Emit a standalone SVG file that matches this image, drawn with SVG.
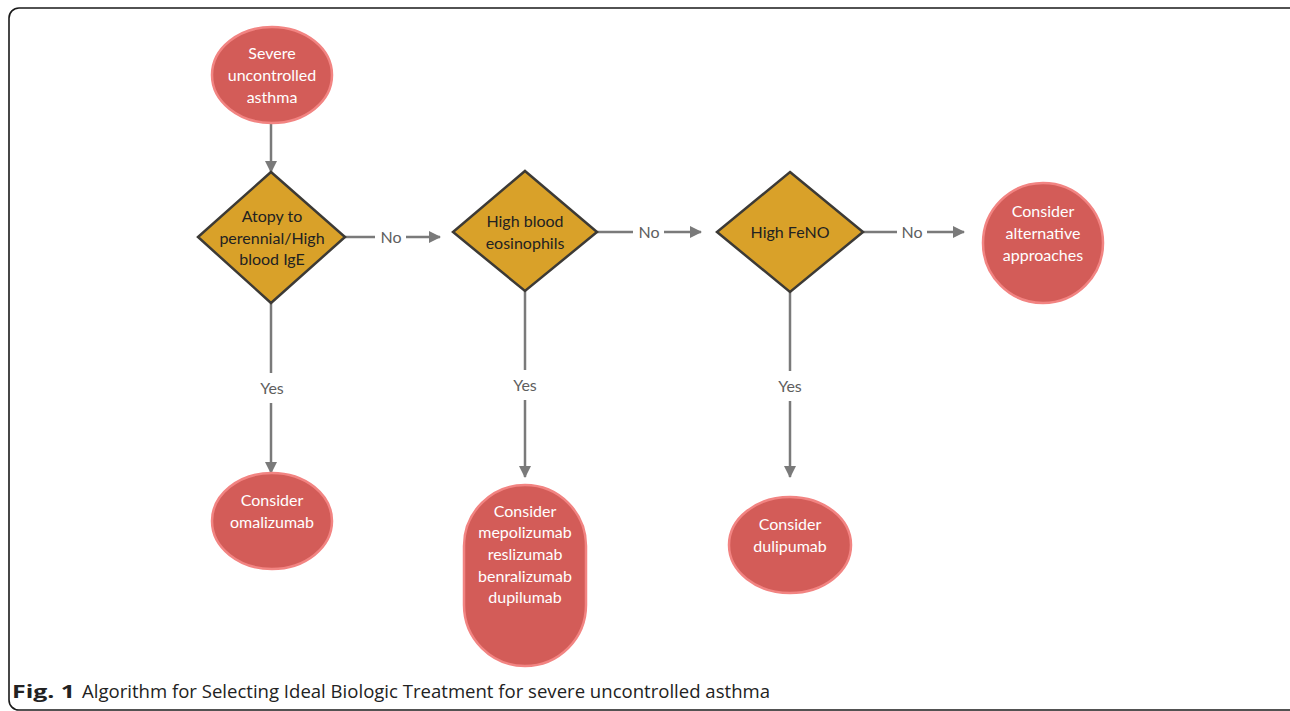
<svg xmlns="http://www.w3.org/2000/svg" width="1290" height="711" viewBox="0 0 1290 711">
<defs>
<style>
.term{fill:#D35C58;stroke:#F28482;stroke-width:2.5}
.dec{fill:#D9A129;stroke:#3C3A36;stroke-width:2.5}
.wt{font-family:Lato,"Open Sans","Liberation Sans",sans-serif;font-size:16px;fill:#FFFFFF;text-anchor:middle}
.dt{font-family:Lato,"Open Sans","Liberation Sans",sans-serif;font-size:16px;fill:#222222;text-anchor:middle}
.lbl{font-family:Lato,"Open Sans","Liberation Sans",sans-serif;font-size:16px;fill:#5E5E5E;text-anchor:middle}
.ln{stroke:#7A7A7A;stroke-width:2.5;fill:none}
.cap{font-family:"Open Sans","Liberation Sans",sans-serif;font-size:18.5px;fill:#222222}
</style>
<marker id="ah" viewBox="0 0 12 12" refX="11" refY="6" markerWidth="12" markerHeight="12" markerUnits="userSpaceOnUse" orient="auto">
<path d="M0,0 L12,6 L0,12 Z" fill="#7A7A7A"/>
</marker>
</defs>
<rect x="9" y="8" width="1292" height="702" rx="10" fill="none" stroke="#1a1a1a" stroke-width="1.6"/>

<g id="connectors">
<line class="ln" x1="271" y1="122" x2="271" y2="172" marker-end="url(#ah)"/>
<line class="ln" x1="345" y1="237" x2="375" y2="237"/>
<text class="lbl" x="391" y="243">No</text>
<line class="ln" x1="406" y1="237" x2="440" y2="237" marker-end="url(#ah)"/>
<line class="ln" x1="597" y1="232" x2="633" y2="232"/>
<text class="lbl" x="649" y="238">No</text>
<line class="ln" x1="664" y1="232" x2="701" y2="232" marker-end="url(#ah)"/>
<line class="ln" x1="863" y1="232" x2="897" y2="232"/>
<text class="lbl" x="912" y="238">No</text>
<line class="ln" x1="927" y1="232" x2="964" y2="232" marker-end="url(#ah)"/>
<line class="ln" x1="271" y1="303" x2="271" y2="373"/>
<text class="lbl" x="272" y="394">Yes</text>
<line class="ln" x1="271" y1="403" x2="271" y2="473" marker-end="url(#ah)"/>
<line class="ln" x1="525" y1="291" x2="525" y2="370"/>
<text class="lbl" x="525" y="391">Yes</text>
<line class="ln" x1="525" y1="400" x2="525" y2="477" marker-end="url(#ah)"/>
<line class="ln" x1="790" y1="292" x2="790" y2="371"/>
<text class="lbl" x="790" y="392">Yes</text>
<line class="ln" x1="790" y1="401" x2="790" y2="477" marker-end="url(#ah)"/>
</g>

<g id="start">
<ellipse class="term" cx="272" cy="75" rx="60" ry="48"/>
<text class="wt" x="272" y="59">Severe</text>
<text class="wt" x="272" y="81">uncontrolled</text>
<text class="wt" x="272" y="103">asthma</text>
</g>

<g id="atopy">
<polygon class="dec" points="271,172 345,237 271,303 198,237"/>
<text class="dt" x="272" y="222">Atopy to</text>
<text class="dt" x="272" y="244">perennial/High</text>
<text class="dt" x="272" y="265">blood IgE</text>
</g>

<g id="eos">
<polygon class="dec" points="525,171 597,232 525,291 453,232"/>
<text class="dt" x="525" y="227">High blood</text>
<text class="dt" x="525" y="249">eosinophils</text>
</g>

<g id="feno">
<polygon class="dec" points="790,172 863,232 790,292 717,232"/>
<text class="dt" x="790" y="238">High FeNO</text>
</g>

<g id="alt">
<ellipse class="term" cx="1043" cy="243" rx="60" ry="60"/>
<text class="wt" x="1043" y="217">Consider</text>
<text class="wt" x="1043" y="239">alternative</text>
<text class="wt" x="1043" y="261">approaches</text>
</g>

<g id="omalizumab">
<ellipse class="term" cx="272" cy="521" rx="60" ry="48"/>
<text class="wt" x="272" y="506">Consider</text>
<text class="wt" x="272" y="528">omalizumab</text>
</g>

<g id="mepolizumab">
<rect class="term" x="464" y="485" width="122" height="181" rx="61" ry="61"/>
<text class="wt" x="525" y="517">Consider</text>
<text class="wt" x="525" y="538">mepolizumab</text>
<text class="wt" x="525" y="560">reslizumab</text>
<text class="wt" x="525" y="582">benralizumab</text>
<text class="wt" x="525" y="603">dupilumab</text>
</g>

<g id="dulipumab">
<ellipse class="term" cx="790" cy="545" rx="61" ry="48"/>
<text class="wt" x="790" y="530">Consider</text>
<text class="wt" x="790" y="552">dulipumab</text>
</g>

<g id="caption">
<text class="cap" x="12" y="698" font-weight="bold" textLength="63" lengthAdjust="spacingAndGlyphs">Fig. 1</text>
<text class="cap" x="82" y="698" textLength="688" lengthAdjust="spacingAndGlyphs">Algorithm for Selecting Ideal Biologic Treatment for severe uncontrolled asthma</text>
</g>
</svg>
